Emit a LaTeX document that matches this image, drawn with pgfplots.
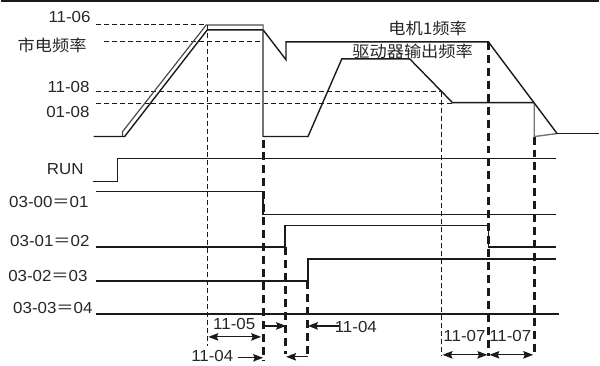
\documentclass[border=0pt]{standalone}
\usepackage{pgfplots}
\pgfplotsset{compat=1.18}
\usetikzlibrary{arrows.meta}
\usepackage{fontspec}
\setmainfont{Liberation Sans}[FakeStretch=1.06]
\newfontfamily\cjk{Noto Sans CJK SC}[FakeStretch=1.08]
\newcommand\eq{{\cjk ＝}}
\definecolor{ink}{HTML}{1A1A1A}
\definecolor{txt}{HTML}{262626}
\begin{document}
\begin{tikzpicture}[
  ln/.style={draw=ink, line width=1.4bp},
  gln/.style={draw=black!55, line width=1.4bp},
  tdash/.style={draw=ink, line width=1.0bp, dash pattern=on 5bp off 3bp},
  Tdash/.style={draw=ink, line width=3bp, dash pattern=on 8bp off 5bp},
  ar/.style={draw=ink, line width=1.2bp, -{Stealth[length=10bp,width=7.5bp,inset=1.5bp]}},
  dar/.style={draw=ink, line width=1.2bp, {Stealth[length=10bp,width=7.5bp,inset=1.5bp]}-{Stealth[length=10bp,width=7.5bp,inset=1.5bp]}},
  lab/.style={inner sep=0pt, text=txt, font=\fontsize{16bp}{18bp}\selectfont},
]
\begin{axis}[scale only axis, width=600bp, height=367bp,
  xmin=0, xmax=600, ymin=0, ymax=367, y dir=reverse,
  hide axis, clip=false]
\addplot[draw=none] coordinates {(0,0) (600,367)};
% top border
\addplot[draw=ink, line width=2bp] coordinates {(0,1) (600,1)};
% thin dashed horizontals
\addplot[tdash] coordinates {(95,25) (206,25)};
\addplot[tdash] coordinates {(103,42) (263,42)};
\addplot[tdash] coordinates {(95,92) (442,92)};
\addplot[tdash] coordinates {(95,104) (453,104)};
% thin dashed verticals
\addplot[tdash] coordinates {(207,25) (207,347)};
\addplot[tdash] coordinates {(442,92) (442,357)};
% thick dashed verticals
\addplot[Tdash] coordinates {(263,140) (263,362)};
\addplot[Tdash] coordinates {(285,248) (285,355)};
\addplot[Tdash] coordinates {(308,282) (308,358)};
\addplot[Tdash] coordinates {(489,42) (489,357)};
\addplot[Tdash] coordinates {(535,137) (535,357)};
% motor frequency (upper outline of ramp)
\addplot[draw=black!70, line width=1.2bp] coordinates {(122,137) (122,132) (206,25) (263,25) (263,30)};
% drive output frequency
\addplot[ln] coordinates {(93,137) (124,137) (207,30) (263,30)};
\addplot[gln] coordinates {(263,30) (263,137)};
\addplot[ln] coordinates {(263,137) (308,137) (342,59) (410,59) (453,103) (535,103)};
\addplot[gln] coordinates {(535,103) (535,137) (558,134)};
\addplot[ln] coordinates {(558,134) (600,134)};
% motor 1 frequency
\addplot[ln] coordinates {(263,30) (286,60) (286,42) (489,42) (558,134)};
% digital signals
\addplot[ln] coordinates {(92,182) (117,182) (117,159) (557,159)};
\addplot[ln] coordinates {(95,192) (263,192) (263,215) (557,215)};
\addplot[ln] coordinates {(95,248) (285,248) (285,226) (489,226) (489,248) (557,248)};
\addplot[ln] coordinates {(95,282) (308,282) (308,260) (557,260)};
\addplot[ln] coordinates {(95,315) (560,315)};
% arrows
\addplot[dar] coordinates {(208,338) (261,338)};
\addplot[ar] coordinates {(262,327) (286,327)};
\addplot[ar] coordinates {(339,327) (308,327)};
\addplot[ar] coordinates {(238,359) (263,359)};
\addplot[ar] coordinates {(308,358) (286,358)};
\addplot[dar] coordinates {(443,356) (488,356)};
\addplot[dar] coordinates {(490,356) (534,356)};
% labels
\node[lab, anchor=east] at (axis cs:90,17) {11-06};
\node[lab, anchor=east] at (axis cs:86,46) {\cjk 市电频率};
\node[lab, anchor=east] at (axis cs:89,87) {11-08};
\node[lab, anchor=east] at (axis cs:89,112) {01-08};
\node[lab] at (axis cs:428,29) {\cjk 电机1频率};
\node[lab] at (axis cs:413,52) {\cjk 驱动器输出频率};
\node[lab, anchor=east] at (axis cs:83,170) {RUN};
\node[lab, anchor=east] at (axis cs:88,203) {03-00\eq01};
\node[lab, anchor=east] at (axis cs:89,242) {03-01\eq02};
\node[lab, anchor=east] at (axis cs:87,277) {03-02\eq03};
\node[lab, anchor=east] at (axis cs:92,309) {03-03\eq04};
\node[lab] at (axis cs:234,325) {11-05};
\node[lab] at (axis cs:212,357.5) {11-04};
\node[lab] at (axis cs:356,328) {11-04};
\node[lab] at (axis cs:465,337) {11-07};
\node[lab] at (axis cs:511,337) {11-07};
\end{axis}
\end{tikzpicture}
\end{document}
